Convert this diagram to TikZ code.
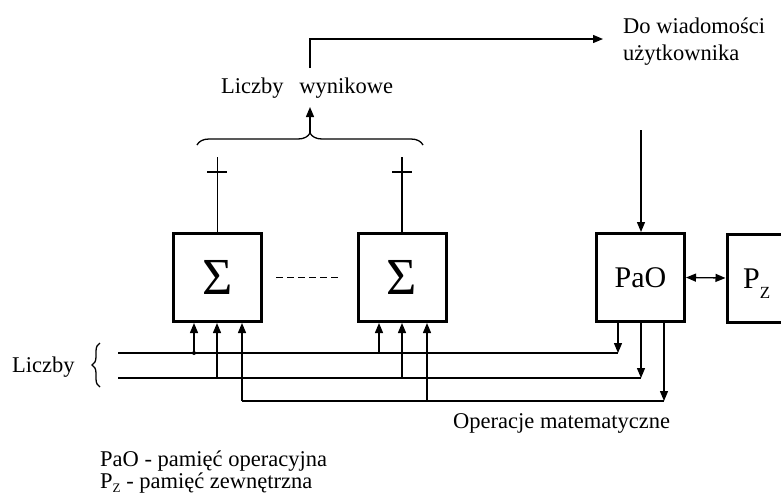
\documentclass[tikz,border=0pt]{standalone}
\usepackage{fontspec}
\setmainfont{Liberation Serif}
\usetikzlibrary{arrows.meta,decorations.pathreplacing}
\newcommand\mainsz{\fontsize{22.5}{27}\selectfont}
\begin{document}
\begin{tikzpicture}[x=1pt,y=-1pt,
  box/.style={draw,line width=3pt,minimum width=88pt,minimum height=88pt,inner sep=0pt,anchor=center},
  wire/.style={line width=1.3pt},
  arr/.style={wire,-{Triangle[length=10pt,width=8pt]}},
  darr/.style={wire,{Triangle[length=10pt,width=8pt]}-{Triangle[length=10pt,width=8pt]}},
  txt/.style={inner sep=0pt,anchor=base west,font=\mainsz},
  brc/.style={wire,decorate,decoration={brace,amplitude=#1}}
]
\useasboundingbox (0,0) rectangle (781,498);
\clip (0,0) rectangle (781,498);

% boxes
\node[box,font=\fontsize{52}{52}\selectfont] (s1) at (217.5,277.5) {Σ};
\node[box,font=\fontsize{52}{52}\selectfont] (s2) at (402,277.5) {Σ};
\node[box,font=\fontsize{30}{30}\selectfont] (pao) at (640.5,277.5) {PaO};
\node[box] (pz) at (771,278) {};
\node[inner sep=0pt,anchor=base west,font=\fontsize{30}{30}\selectfont] (pzt) at (743,288)
  {P{\fontsize{17}{17}\selectfont\raisebox{-10pt}{Z}}};

% dashed between sum boxes
\draw[wire,dash pattern=on 7pt off 4pt] ([xshift=13pt]s1.east) -- ([xshift=-16pt]s2.west);

% PaO <-> Pz
\draw[darr] (pao.east) -- (pz.west);

% outputs of sum boxes with ticks
\coordinate (o1) at (217,157);
\coordinate (o2) at (402,157);
\coordinate (t1) at (217,172);
\coordinate (t2) at (402,172);
\draw[wire] (s1.north) -- (s1.north |- o1);
\draw[wire] (s2.north) -- (s2.north |- o2);
\draw[wire] ([xshift=-10pt]t1) -- ([xshift=10pt]t1);
\draw[wire] ([xshift=-10pt]t2) -- ([xshift=10pt]t2);

% brace over results
\coordinate (bl) at (197,145);
\coordinate (br) at (423,145);
\draw[brc=12pt] (bl) -- (br);
\coordinate (bt) at (310,133);
\coordinate (lw) at (310,107);
\draw[arr] (bt) -- (lw);
\node[txt] (lwt) at (221,93) {Liczby\hspace{10pt} wynikowe};

% to user
\coordinate (u0) at (310,68);
\coordinate (u1) at (603,39);
\draw[arr] (u0) |- (u1);
\node[txt] (dw1) at (623,33) {Do wiadomości};
\node[txt] (dw2) at (623,60) {użytkownika};

% into PaO
\coordinate (pin) at (641,130);
\draw[arr] (pin) -- (pin |- pao.north);

% buses
\coordinate (l1a) at (118,353);
\coordinate (l2a) at (118,378);
\coordinate (d1) at (194,353);
\coordinate (j1b) at (217,378);
\coordinate (j1c) at (242,401);
\coordinate (j2a) at (379,353);
\coordinate (j2b) at (402,378);
\coordinate (j2c) at (427,401);
\coordinate (e1) at (618,353);
\coordinate (e2) at (641,378);
\coordinate (e3) at (664,401);

\draw[wire] (l1a) -- (e1);
\draw[wire] (l2a) -- (e2);
\draw[wire] (j1c) -- (e3);

\draw[arr] (e1 |- pao.south) -- (e1);
\draw[arr] (e2 |- pao.south) -- (e2);
\draw[arr] (e3 |- pao.south) -- (e3);

\draw[arr] (d1) -- (d1 |- s1.south);
\fill (d1) circle (2pt);
\draw[arr] (j1b) -- (j1b |- s1.south);
\draw[arr] (j1c) -- (j1c |- s1.south);
\draw[arr] (j2a) -- (j2a |- s2.south);
\draw[arr] (j2b) -- (j2b |- s2.south);
\draw[arr] (j2c) -- (j2c |- s2.south);

% Liczby brace
\coordinate (lb1) at (100,387);
\coordinate (lb2) at (100,343);
\draw[brc=8pt] (lb1) -- (lb2);
\node[txt] (lic) at (12,372) {Liczby};

\node[txt] (opm) at (453,428) {Operacje matematyczne};

% legend
\node[txt] (leg1) at (100,466) {PaO - pamięć operacyjna};
\node[txt] (leg2) at (100,488) {P{\fontsize{13}{13}\selectfont\raisebox{-4pt}{Z}} - pamięć zewnętrzna};
\end{tikzpicture}
\end{document}
